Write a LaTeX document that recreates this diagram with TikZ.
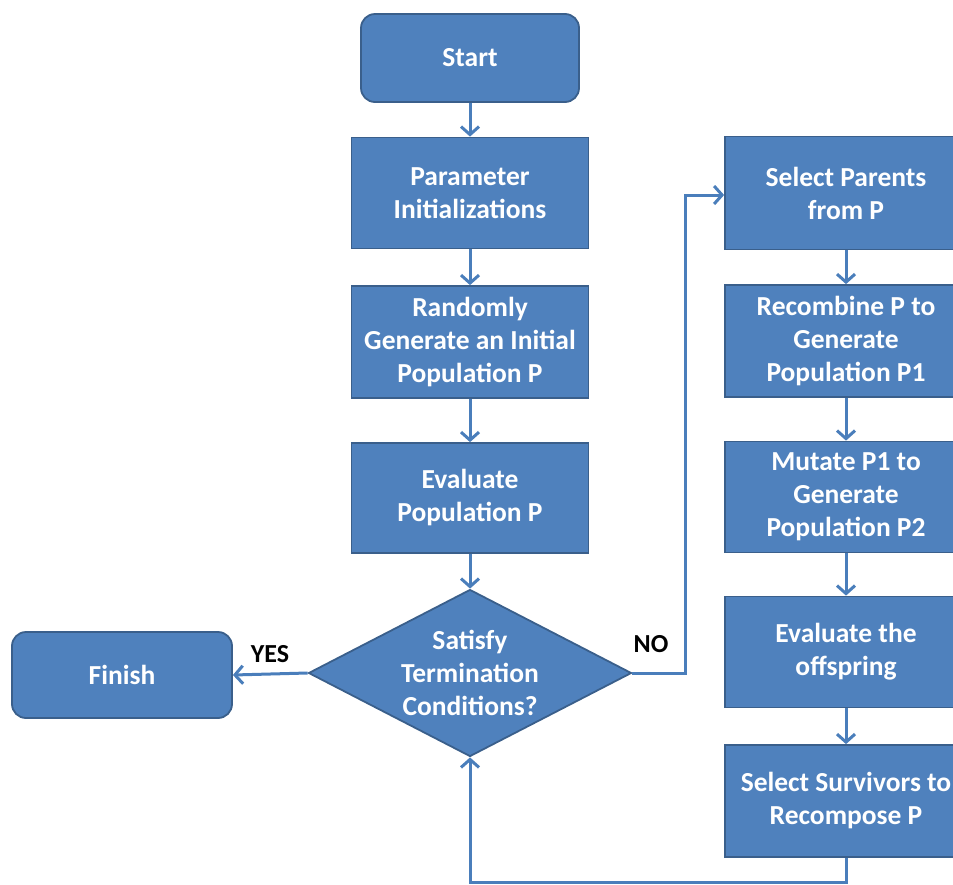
\documentclass[tikz,border=0pt]{standalone}
\usepackage{fontspec}
\setmainfont{Carlito}
\usetikzlibrary{arrows.meta,shapes.geometric}
\definecolor{fillc}{HTML}{4F81BD}
\definecolor{bordc}{HTML}{3A5F8B}
\definecolor{linec}{HTML}{4A7EBB}
\tikzset{
  box/.style={draw=bordc, fill=fillc, line width=1.8pt, minimum width=237pt, minimum height=111pt,
    text=white, font=\bfseries\fontsize{27.5}{33}\selectfont, align=center, inner sep=0pt},
  rbox/.style={box, rounded corners=14pt},
  rcol/.style={box, minimum width=242pt},
  conn/.style={draw=linec, line width=3pt, -{Straight Barb[length=8pt,width=18pt,line width=3pt]}},
  lbl/.style={font=\bfseries\fontsize{26}{30}\selectfont, text=black, inner sep=0pt},
  dtext/.style={text=white, font=\bfseries\fontsize{27.5}{33}\selectfont, align=center, inner sep=0pt}
}
\begin{document}
\begin{tikzpicture}[x=1pt,y=-1pt]
\useasboundingbox (0,0) rectangle (953,884);
% left column
\node[rbox, minimum width=218pt, minimum height=88pt] (start) at (470,58) {Start};
\node[box] (init) at (470,193) {Parameter\\Initializations};
\node[box, minimum height=112pt] (gen) at (470,342) {Randomly\\Generate an Initial\\Population P};
\node[box, minimum height=110pt] (eval) at (470,498) {Evaluate\\Population P};
\node[diamond, draw=bordc, fill=fillc, line width=1.8pt, aspect=1.93, minimum width=323pt, minimum height=167pt, inner sep=0pt] (dia) at (470,673) {};
\node[dtext] (diat) at (dia.center) {Satisfy\\Termination\\Conditions?};
\node[rbox, minimum width=220pt, minimum height=86pt] (finish) at (122,675) {Finish};
% right column
\node[rcol, minimum height=113pt] (sel) at (846,193) {Select Parents\\from P};
\node[rcol, minimum height=112pt] (rec) at (846,341) {Recombine P to\\Generate\\Population P1};
\node[rcol] (mut) at (846,497) {Mutate P1 to\\Generate\\Population P2};
\node[rcol] (off) at (846,652) {Evaluate the\\offspring};
\node[rcol, minimum height=112pt] (surv) at (846,801) {Select Survivors to\\Recompose P};
% labels
\node[lbl] (yes) at (270,654) {YES};
\node[lbl] (no) at (651,644) {NO};
% connectors
\coordinate (nobend1) at (685,673);
\coordinate (nobend2) at (685,195);
\coordinate (loop1) at (846,882);
\coordinate (loop2) at (470,882);
\draw[conn] (start) -- (init);
\draw[conn] (init) -- (gen);
\draw[conn] (gen) -- (eval);
\draw[conn] (eval) -- (dia.north);
\draw[conn] (dia.west) -- (finish.east);
\draw[conn] (dia.east) -- (nobend1) -- (nobend2) -- (sel.west |- nobend2);
\draw[conn] (sel) -- (rec);
\draw[conn] (rec) -- (mut);
\draw[conn] (mut) -- (off);
\draw[conn] (off) -- (surv);
\draw[conn] (surv.south) -- (loop1) -- (loop2) -- (dia.south);
\end{tikzpicture}
\end{document}
